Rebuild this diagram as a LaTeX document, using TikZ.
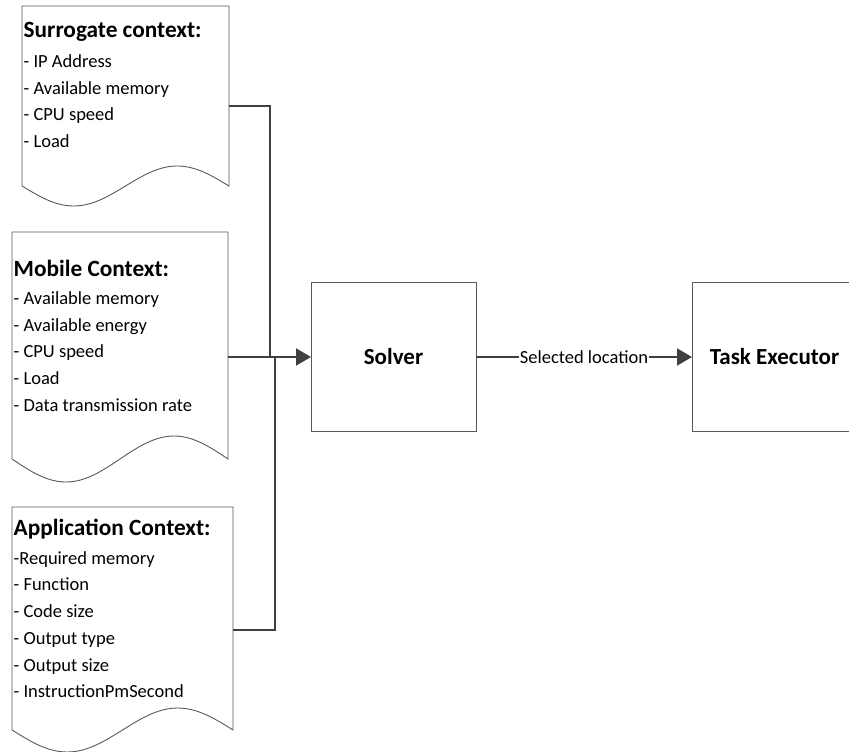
\documentclass[tikz,border=0pt]{standalone}
\usepackage{fontspec}
\setmainfont{Carlito}
\usetikzlibrary{arrows.meta}
\usetikzlibrary{calc}
\newcommand{\drawDoc}[2]{ % #1: node name, #2: wave height
    \draw[doc line] ($(#1.south west)+(0pt,#2)$) -- (#1.north west) -- (#1.north east)
        -- ($(#1.south east)+(0pt,#2)$)
        sin ($(#1.south east)!0.25!(#1.south west)+(0pt,2*#2)$)
        cos ($(#1.south east)!0.5!(#1.south west)+(0pt,#2)$)
        sin ($(#1.south east)!0.75!(#1.south west)$)
        cos ($(#1.south west)+(0pt,#2)$);
}
\newcommand{\titleFont}{\bfseries\fontsize{23.3}{26.7}\selectfont}

\begin{document}
\begin{tikzpicture}[
    x=1pt, y=-1pt,
    doc style/.style={inner sep=0pt, outer sep=0pt},
    doc line/.style={draw=black!65, line width=0.9pt},
    text style/.style={align=left, inner sep=1.5pt, anchor=west, yshift=21pt,
        font=\fontsize{18.5}{26.7}\selectfont},
    box style/.style={draw=black!65, line width=0.9pt, inner sep=0pt, outer sep=0pt,
        minimum width=165pt, minimum height=149pt, font=\bfseries\fontsize{23}{28}\selectfont},
    link style/.style={draw=black!75, line width=2pt},
    arrow style/.style={-{Triangle[length=15pt, width=17pt]}}
]
    \useasboundingbox (0,0) rectangle (849,752);

    % Context documents
    \node[doc style, minimum width=207pt, minimum height=200pt,
        label={[text style]west:{{\titleFont Surrogate context:}\\[3pt]
            - IP Address\\ - Available memory\\ - CPU speed\\ - Load}}] (surr) at (125.5,106) {};
    \node[doc style, minimum width=216pt, minimum height=250pt,
        label={[text style]west:{{\titleFont Mobile Context:}\\[1pt]
            - Available memory\\ - Available energy\\ - CPU speed\\ - Load\\ - Data transmission rate}}] (mob) at (120,357) {};
    \node[doc style, minimum width=221pt, minimum height=245pt,
        label={[text style]west:{{\titleFont Application Context:}\\[2pt]
            -Required memory\\ - Function\\ - Code size\\ - Output type\\ - Output size\\ - InstructionPmSecond}}] (app) at (122.5,629.5) {};
    \drawDoc{surr}{20pt}
    \drawDoc{mob}{23pt}
    \drawDoc{app}{22pt}

    % Solver and executor
    \node[box style] (solver) at (393.5,357) {Solver};
    \node[box style] (task) at (774.5,357) {Task Executor};

    % Junctions
    \coordinate (jsurr) at (270,357);
    \coordinate (japp) at (275,357);

    % Connectors
    \draw[link style] (surr.east) -| (jsurr);
    \draw[link style] (app.east) -| (japp);
    \draw[link style, arrow style] (mob.east) -- (solver.west);
    \draw[link style, arrow style] (solver.east) -- node[fill=white, inner sep=0.5pt,
        font=\fontsize{18.5}{22}\selectfont] {Selected location} (task.west);

\end{tikzpicture}
\end{document}
